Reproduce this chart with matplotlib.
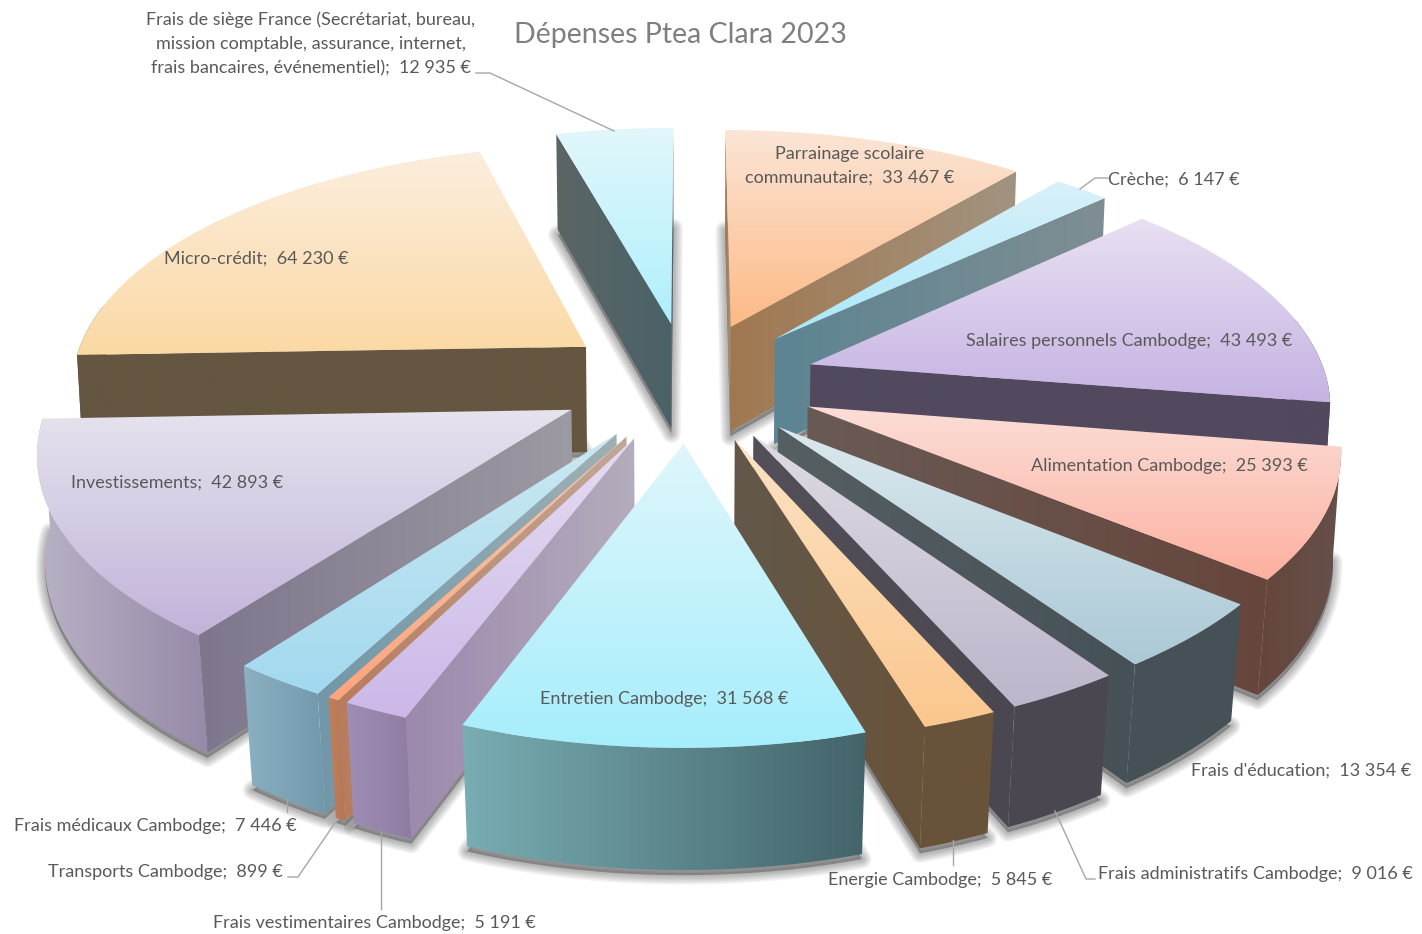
import numpy as np
import matplotlib
matplotlib.use("Agg")
import matplotlib.pyplot as plt
from matplotlib.patches import Polygon
from matplotlib.colors import to_rgb

plt.rcParams['font.family'] = ['Lato', 'DejaVu Sans']

# ---- data (clockwise from the top) ----
categories = ["Parrainage scolaire\ncommunautaire", "Crèche", "Salaires personnels Cambodge",
              "Alimentation Cambodge", "Frais d'éducation", "Frais administratifs Cambodge",
              "Energie Cambodge", "Entretien Cambodge", "Frais vestimentaires Cambodge",
              "Transports Cambodge", "Frais médicaux Cambodge", "Investissements", "Micro-crédit",
              "Frais de siège France (Secrétariat, bureau,\nmission comptable, assurance, internet,\nfrais bancaires, événementiel)"]
values = [33467, 6147, 43493, 25393, 13354, 9016, 5845, 31568, 5191, 899, 7446, 42893, 64230, 12935]

# ---- styles: top light/dark, radial wall left/right, outer wall left/right ----
top_colors = [("#fbe5d6", "#fdba85"), ("#d9f1f9", "#a9e8fb"), ("#e8e0f2", "#c6b3e3"),
              ("#fbded7", "#fdb09f"), ("#dce9ee", "#abc9d6"), ("#dedbe3", "#bdb5cc"),
              ("#fde2c4", "#fbc78e"), ("#dff6fb", "#a6eefc"), ("#e5dcf2", "#cbb8e8"),
              ("#f9c9ae", "#fca57c"), ("#cbe8f2", "#a2d9ef"), ("#e6e3ee", "#c2b3da"),
              ("#fbeede", "#fcd9a4"), ("#e2f7fb", "#aef0fb")]
wall_colors = [("#a07850", "#a29380"), ("#5c8493", "#7f8e92"), ("#52495e", "#52495e"),
               ("#6a5a55", "#66463c"), ("#565f62", "#465157"), ("#53505a", "#4b4750"),
               ("#63584a", "#68533a"), ("#5f8a92", "#5f8a92"), ("#9c89ad", "#b4adbd"),
               ("#b87c5c", "#c0a898"), ("#7297a8", "#9fb0b5"), ("#7f768d", "#9c9aa2"),
               ("#655640", "#655640"), ("#5b6565", "#4a6268")]
outer_colors = [("#a07850", "#a29380"), ("#5c8493", "#7f8e92"), ("#52495e", "#52495e"),
                ("#65463c", "#65504a"), ("#465157", "#465157"), ("#4b4750", "#4b4750"),
                ("#68533a", "#68533a"), ("#78adb3", "#43646a"), ("#9f8eb4", "#8f7ca3"),
                ("#bf8058", "#b67656"), ("#8ab0c2", "#7298ab"), ("#b9b1c5", "#968aa9"),
                ("#655640", "#655640"), ("#5b6565", "#4a6268")]

# ---- label layout (pixels) ----
label_pos = [(850, 166, "center"), (1108, 180, "left"), (966, 341, "left"), (1031, 466, "left"),
             (1191, 771, "left"), (1098, 874, "left"), (828, 880, "left"), (540, 699, "left"),
             (213, 923, "left"), (48, 872, "left"), (14, 826, "left"), (71, 483, "left"),
             (164, 259, "left"), (310.5, 44, "center")]
leaders = [[(1108, 178), (1095, 178), (1080, 189)],
           [(476, 73), (490, 73), (614, 131)],
           [(287, 799), (287, 812)],
           [(288, 877), (298, 877), (337, 820)],
           [(381, 832), (381, 909)],
           [(953, 840), (953, 865)],
           [(1055, 811), (1086, 879), (1095, 879)]]

# ---- projection of the pie ----
CX, CY, SX, SY, PERSP, EXPLODE = 688.0, 381.5, 517.0, 240.0, 0.145, 0.25
FIG_W, FIG_H = 1422, 934


def project(X, Y, bottom=False):
    d = 1 - PERSP * Y
    u = CX + SX * X / d
    v = CY + SY * Y / d
    if bottom:
        v = v + 107.0 / (1 - 0.1 * Y)
        u = CX + (u - CX) * (0.99 - 0.009 * np.clip(Y, 0, 1.3))
    return np.column_stack([u, v])


fig = plt.figure(figsize=(FIG_W / 100, FIG_H / 100), dpi=100)
ax = fig.add_axes([0, 0, 1, 1])
ax.set_axis_off()
z_counter = [1]


def next_z():
    z_counter[0] += 1
    return z_counter[0]


def gradient(pts, c0, c1, vertical):
    x0, y0 = pts.min(axis=0)
    x1, y1 = pts.max(axis=0)
    if x1 - x0 < 0.5 or y1 - y0 < 0.5:
        return
    t = np.linspace(0, 1, 128)
    a, b = np.array(to_rgb(c0)), np.array(to_rgb(c1))
    ramp = a[None, :] * (1 - t[:, None]) + b[None, :] * t[:, None]
    img = ramp[:, None, :] if vertical else ramp[None, :, :]
    z = next_z()
    im = ax.imshow(img, extent=(x0, x1, y1, y0), aspect='auto', interpolation='bilinear', zorder=z)
    patch = Polygon(pts, closed=True, transform=ax.transData, facecolor='none', edgecolor='none')
    ax.add_patch(patch)
    im.set_clip_path(patch)


def quad(a, b):
    return np.vstack([a, b[::-1]])


def shadow(pts):
    shifted = pts + np.array([0, 5])
    for lw in (19, 16, 13, 10, 7, 4):
        z = next_z()
        ax.add_patch(Polygon(shifted, closed=True, facecolor=(0, 0, 0, 0.05),
                             edgecolor=(0, 0, 0, 0.05), linewidth=lw * 0.72, joinstyle='round', zorder=z))


def wall_visible(tip, rim_pt, centre):
    # the wall hangs below its edge: it shows when the top face lies on the other side
    e = rim_pt - tip
    side_down = e[0] * 1.0
    c = centre - tip
    side_top = e[0] * c[1] - e[1] * c[0]
    return side_down * side_top < 0


total = float(sum(values))
angles = np.concatenate([[0], np.cumsum(values)]) / total * 2 * np.pi
mids = (angles[:-1] + angles[1:]) / 2
order = np.argsort(-np.cos(mids))

geometry = {}
for i in order:
    a0, a1, mid = angles[i], angles[i + 1], mids[i]
    th = np.linspace(a0, a1, max(int((a1 - a0) * 60), 6))
    ex, ey = EXPLODE * np.sin(mid), -EXPLODE * np.cos(mid)
    rim_X, rim_Y = np.sin(th) + ex, -np.cos(th) + ey
    geometry[i] = (th,
                   project(np.array([ex]), np.array([ey])),
                   project(np.array([ex]), np.array([ey]), True),
                   project(rim_X, rim_Y),
                   project(rim_X, rim_Y, True))
    shadow(np.vstack([geometry[i][2], geometry[i][4]]))

for i in order:
    th, tip_top, tip_bot, rim_top, rim_bot = geometry[i]
    centre = np.vstack([tip_top, rim_top]).mean(axis=0)
    wl, wr = wall_colors[i]
    for k in (0, -1):
        if wall_visible(tip_top[0], rim_top[k], centre):
            seg_top = np.vstack([tip_top, rim_top[k:k + 1 if k == 0 else None]])
            seg_bot = np.vstack([tip_bot, rim_bot[k:k + 1 if k == 0 else None]])
            gradient(quad(seg_top, seg_bot), wl, wr, False)
    mask = -np.cos(th) > -0.2
    if mask.sum() >= 2:
        ol, or_ = outer_colors[i]
        gradient(quad(rim_top[mask], rim_bot[mask]), ol, or_, False)
    t0, t1 = top_colors[i]
    gradient(np.vstack([tip_top, rim_top]), t0, t1, True)

TOP_Z = 1000
for path in leaders:
    xs, ys = zip(*path)
    ax.plot(xs, ys, color="#a6a6a6", lw=1.0, zorder=TOP_Z)

for name, val, (x, y, ha) in zip(categories, values, label_pos):
    amount = f"{val:,}".replace(",", " ")
    ax.text(x, y, f"{name};  {amount} €", ha=ha, va='center', multialignment='center', fontsize=13.0,
            color="#595959", linespacing=1.62, zorder=TOP_Z + 1)

ax.text(680, 35, "Dépenses Ptea Clara 2023", ha='center', va='center', fontsize=20.5,
        color="#7f7f7f", zorder=TOP_Z + 1)

ax.set_xlim(0, FIG_W)
ax.set_ylim(FIG_H, 0)
fig.savefig("out.png", dpi=100, facecolor="white")
